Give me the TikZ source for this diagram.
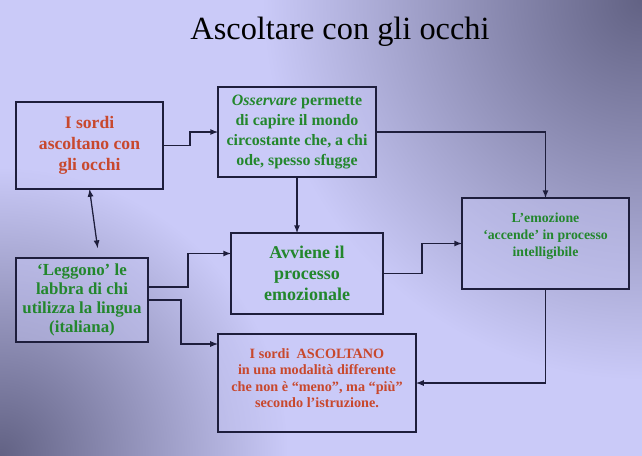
\documentclass[tikz,border=0pt]{standalone}
\usepackage{fontspec}
\setmainfont{Liberation Serif}
\usetikzlibrary{positioning,arrows,calc}
\definecolor{bglight}{RGB}{202,202,248}
\definecolor{bgdark}{RGB}{98,98,132}
\definecolor{boxline}{RGB}{30,30,60}
\definecolor{txtred}{RGB}{200,72,45}
\definecolor{txtgreen}{RGB}{35,135,45}
\tikzset{%
	block/.style = {draw=boxline, rectangle, fill=bglight, fill opacity=0.45,
		text opacity=1, line width=0.9pt, inner sep=0pt, outer sep=0pt, align=center},
	wire/.style  = {->, line width=0.9pt, draw=boxline}
}

\begin{document}
\begin{tikzpicture}[x=0.025cm, y=-0.025cm, >=latex]
	% slide background
	\useasboundingbox (0,0) rectangle (642,455);
	\fill[bglight] (-5,-5) rectangle (647,460);
	\begin{scope}
		\clip (-5,-5) rectangle (647,460);
		\shade[inner color=bgdark, outer color=bglight] (642,0) circle (9.5cm);
		\shade[inner color=bgdark, outer color=bglight] (0,455) circle (7.2cm);
	\end{scope}
	
	\node at (340,32) (title) {\fontsize{23}{27}\selectfont Ascoltare con gli occhi};
	
	\draw
	node at (89.5,145.5)[block, minimum width=3.675cm, minimum height=2.175cm, text=txtred,
		font=\bfseries\fontsize{12.5}{15}\selectfont] (sordi) {I sordi\\ ascoltano con\\ gli occhi}
	node at (297,132)[block, minimum width=3.95cm, minimum height=2.25cm, text=txtgreen,
		font=\bfseries\fontsize{11.3}{14}\selectfont] (osservare) {\textit{Osservare} permette\\ di capire il mondo\\ circostante che, a chi\\ ode, spesso sfugge}
	node at (545.5,243.5)[block, minimum width=4.175cm, minimum height=2.275cm, text=txtgreen,
		font=\bfseries\fontsize{9.8}{12}\selectfont] (emozione) {L’emozione\\ ‘accende’ in processo\\ intelligibile\rule[-12.8pt]{0pt}{0pt}}
	node at (82,300)[block, minimum width=3.3cm, minimum height=2.1cm, text=txtgreen,
		font=\bfseries\fontsize{12}{13.6}\selectfont] (leggono) {‘Leggono’ le\\ labbra di chi\\ utilizza la lingua\\ (italiana)}
	node at (307,273.5)[block, minimum width=3.8cm, minimum height=2.025cm, text=txtgreen,
		font=\bfseries\fontsize{12.8}{15}\selectfont] (processo) {Avviene il\\ processo\\ emozionale}
	node at (317,383)[block, minimum width=4.95cm, minimum height=2.45cm, text=txtred,
		font=\bfseries\fontsize{10.1}{11.8}\selectfont] (modalita) {I sordi\ \ ASCOLTANO\\ in una modalità differente\\ che non è “meno”, ma “più”\\ secondo l’istruzione.\rule[-7pt]{0pt}{0pt}};
	
	\draw[wire] (sordi.east) -- ++(27,0) |- (osservare.west);
	\draw[wire] (osservare.east) -| (emozione.north);
	\draw[wire] (osservare.south) -- (osservare.south |- processo.north);
	\draw[wire, <->, shorten >=0.25cm] (sordi.south) -- ([xshift=0.425cm]leggono.north);
	\draw[wire] ([yshift=0.325cm]leggono.east) -- ++(40,0) |- ([yshift=0.5cm]processo.west);
	\draw[wire] (leggono.east) -- ++(33,0) |- ([yshift=0.975cm]modalita.west);
	\draw[wire] (processo.east) -- ++(39,0) |- (emozione.west);
	\draw[wire] (emozione.south) |- (modalita.east);
	
\end{tikzpicture}
\end{document}
